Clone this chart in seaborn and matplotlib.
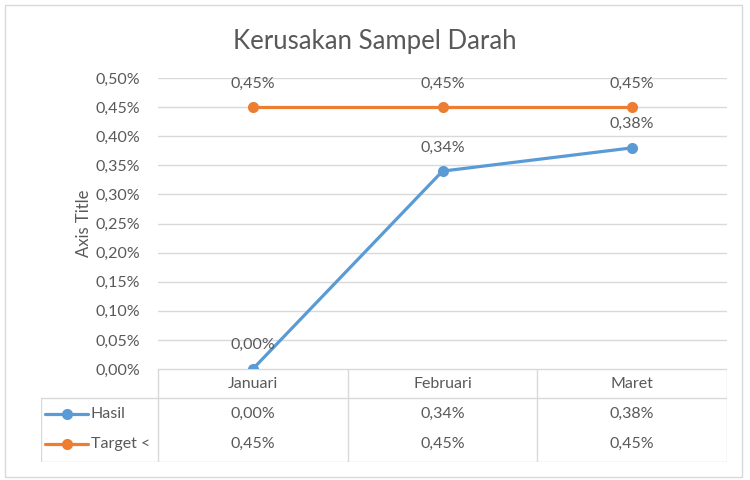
import matplotlib
matplotlib.use("Agg")
import matplotlib.pyplot as plt
import seaborn as sns
import pandas as pd
from matplotlib.patches import Rectangle
from matplotlib.lines import Line2D

# ---- data ----
bulan = ["Januari", "Februari", "Maret"]
hasil = [0.00, 0.34, 0.38]
target = [0.45, 0.45, 0.45]
seri = ["Hasil", "Target <"]
y_ticks = [0.00, 0.05, 0.10, 0.15, 0.20, 0.25, 0.30, 0.35, 0.40, 0.45, 0.50]
judul = "Kerusakan Sampel Darah"
judul_sumbu = "Axis Title"

df = pd.DataFrame({
    "Bulan": bulan * 2,
    "Nilai": hasil + target,
    "Seri": [seri[0]] * 3 + [seri[1]] * 3,
})

warna = {"Hasil": "#5B9BD5", "Target <": "#ED7D31"}
TXT = "#595959"
GRID = "#D9D9D9"
FS = 11.5

def fmt(v):
    return f"{v:.2f}%".replace(".", ",")

sns.set_theme(style="white")
plt.rcParams["font.family"] = ["Lato", "DejaVu Sans"]

W, H = 750, 480
fig = plt.figure(figsize=(7.5, 4.8), dpi=100)

def px_rect(x0, y0, x1, y1):
    return [x0 / W, 1 - y1 / H, (x1 - x0) / W, (y1 - y0) / H]

# outer chart border
fig.patches.append(Rectangle((5 / W, 1 - 477 / H), 737 / W, 472 / H,
                             transform=fig.transFigure, fill=False,
                             edgecolor=GRID, linewidth=1.0))

# ---- main plot ----
ax = fig.add_axes(px_rect(158, 78, 727, 369))
sns.lineplot(data=df, x="Bulan", y="Nilai", hue="Seri", palette=warna,
             marker="o", markersize=8, markeredgewidth=0, linewidth=2.3,
             legend=False, sort=False, ax=ax)
ax.set_xlim(-0.5, 2.5)
ax.set_ylim(0, 0.50)
ax.set_yticks(y_ticks)
ax.set_yticklabels([fmt(v) for v in y_ticks], color=TXT, fontsize=FS)
ax.set_xticks([])
ax.set_xlabel("")
ax.set_ylabel(judul_sumbu, color=TXT, fontsize=12, labelpad=2)
ax.tick_params(axis="y", length=0, pad=13)
for s in ax.spines.values():
    s.set_visible(False)
ax.grid(axis="y", color=GRID, linewidth=1.0)
ax.set_axisbelow(True)

# data labels
for i, b in enumerate(bulan):
    ax.annotate(fmt(hasil[i]), (i, hasil[i]), xytext=(0, 12),
                textcoords="offset points", ha="center", va="bottom",
                color=TXT, fontsize=FS)
    ax.annotate(fmt(target[i]), (i, target[i]), xytext=(0, 12),
                textcoords="offset points", ha="center", va="bottom",
                color=TXT, fontsize=FS)

fig.text(375 / W, 1 - 42 / H, judul, ha="center", va="center",
         color=TXT, fontsize=18.5)

# ---- data table ----
tx0, tx1, ty0, ty1 = 41, 727, 369, 462
tab = fig.add_axes(px_rect(tx0, ty0, tx1, ty1))
tab.set_xlim(tx0, tx1)
tab.set_ylim(ty1, ty0)
tab.axis("off")
col_edges = [158, 348, 537, 727]
row_hdr_bottom = 398
kw = dict(color=GRID, linewidth=1.0)
tab.plot([158, 727], [369, 369], **kw)
tab.plot([41, 727], [row_hdr_bottom, row_hdr_bottom], **kw)
tab.plot([41, 727], [462, 462], **kw)
tab.plot([41, 41], [row_hdr_bottom, 462], **kw)
for xe in col_edges:
    tab.plot([xe, xe], [369, 462], **kw)

centers = [(col_edges[i] + col_edges[i + 1]) / 2 for i in range(3)]
for i, b in enumerate(bulan):
    tab.text(centers[i], 384, b, ha="center", va="center", color=TXT, fontsize=FS)
    tab.text(centers[i], 414, fmt(hasil[i]), ha="center", va="center", color=TXT, fontsize=FS)
    tab.text(centers[i], 444, fmt(target[i]), ha="center", va="center", color=TXT, fontsize=FS)

for name, yrow in zip(seri, [414, 444]):
    tab.add_line(Line2D([45, 88], [yrow, yrow], color=warna[name],
                        linewidth=2.3, marker="None"))
    tab.plot([66.5], [yrow], marker="o", markersize=8, markeredgewidth=0,
             linestyle="None", color=warna[name])
    tab.text(91, yrow, name, ha="left", va="center", color=TXT, fontsize=FS)

fig.savefig("out.png", dpi=100)
